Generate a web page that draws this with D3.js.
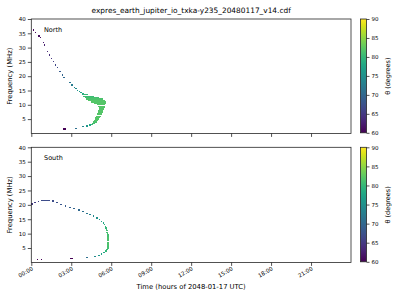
<!DOCTYPE html>
<html><head><meta charset="utf-8">
<script src="https://cdn.jsdelivr.net/npm/d3@7"></script>
<style>
html,body{margin:0;padding:0;background:#fff;}
svg{display:block;font-family:"DejaVu Sans",sans-serif;}
</style></head>
<body><svg id="c" width="400" height="300"></svg>
<script>
// ---------- data ----------
const titleText = "expres_earth_jupiter_io_txka-y235_20480117_v14.cdf";
const panelNames = ["North", "South"];
const xTickHours = [0, 3, 6, 9, 12, 15, 18, 21];
const xTickLabels = ["00:00", "03:00", "06:00", "09:00", "12:00", "15:00", "18:00", "21:00"];
const yTicks = [5, 10, 15, 20, 25, 30, 35, 40];
const cbTicks = [60, 65, 70, 75, 80, 85, 90];

// North: start hour, duration (h), frequency (MHz), theta (deg)
const northStart = [0.12,0.28,0.52,0.62,0.85,0.95,1.18,1.33,1.45,1.63,1.77,1.90,2.10,2.27,2.40,2.85,3.00,3.18,3.30,3.42,3.55,3.66,3.78,
  3.85,3.90,4.00,4.10,4.25,4.45,4.70,4.90,5.00,5.05,5.05,5.00,5.00,4.95,4.90,4.85,4.80,4.75,4.70,4.62,4.55,4.45,
  2.38,3.30,3.80,4.10,4.30];
const northDur = [0.1,0.1,0.1,0.1,0.1,0.1,0.1,0.1,0.1,0.1,0.1,0.1,0.1,0.1,0.1,0.1,0.1,0.1,0.1,0.1,0.1,0.12,0.15,
  0.40,0.80,1.10,1.25,1.25,1.15,0.90,0.65,0.50,0.45,0.40,0.42,0.38,0.38,0.37,0.35,0.32,0.30,0.27,0.28,0.25,0.20,
  0.22,0.12,0.12,0.12,0.15];
const northFreq = [36.2,35.4,34.1,33.6,31.7,30.9,28.6,27.4,26.3,25.1,23.9,23.1,21.6,20.4,19.6,17.7,16.9,16.1,15.6,15.1,14.6,14.2,13.8,
  13.5,13.0,12.5,12.0,11.5,11.0,10.5,10.0,9.5,9.0,8.5,8.0,7.5,7.0,6.5,6.0,5.5,5.0,4.5,4.0,3.5,3.0,
  1.5,1.8,2.3,2.6,2.9];
const northTheta = [60.5,60.5,61,61,62,62.5,63.5,64,64.5,65.5,66.5,67,68.5,69.5,70,71.5,72.5,73.5,74.5,75.5,76.5,77.5,78.5,
  80,80.5,81,81.5,82,82,82,82,82,82,82,82,82,82,82,82,82,82,82,81.5,81,80.5,
  60,71,74,76,78];

// South: start hour, duration (h), frequency (MHz), theta (deg)
const southStart = [0.00,0.22,0.48,0.75,1.55,1.85,2.15,2.50,2.85,3.15,3.50,3.80,4.10,4.35,4.60,4.85,5.05,5.20,5.35,5.45,
  5.52,5.56,5.60,5.62,5.64,5.66,5.68,5.70,5.68,5.68,5.68,5.68,5.68,5.68,5.68,5.66,5.62,5.56,
  5.42,5.22,5.00,4.72,4.10,2.90,0.40,0.72];
const southDur = [0.12,0.12,0.12,0.65,0.12,0.12,0.12,0.12,0.12,0.12,0.12,0.12,0.12,0.12,0.12,0.12,0.12,0.12,0.12,0.12,
  0.12,0.12,0.12,0.12,0.12,0.12,0.12,0.12,0.18,0.18,0.18,0.18,0.18,0.18,0.16,0.14,0.14,0.14,
  0.12,0.12,0.12,0.12,0.12,0.25,0.08,0.08];
const southFreq = [20.3,20.8,21.1,21.6,21.3,20.8,20.2,19.6,19.1,18.7,18.2,17.6,17.1,16.7,16.1,15.4,14.8,14.2,13.7,13.2,
  12.5,12.0,11.5,11.0,10.5,10.0,9.5,9.0,8.5,8.0,7.5,7.0,6.5,6.0,5.5,5.0,4.5,4.0,
  3.4,2.9,2.5,2.1,1.8,1.4,1.1,1.1];
const southTheta = [65,65.5,66,67,67,67.5,68,68.5,69,69.5,70,71,72,73,74,75,76,77,78,79,
  79.5,80,80.5,81,81,81,81,81,81.5,81.5,81.5,81.5,81.5,81.5,81,81,80.5,80,
  78,77,76,74,71,60,60,60];

// ---------- drawing ----------
const svg = d3.select("#c");
const W = 400, H = 300;
const plotL = 31.3, plotR = 351;
const panels = [
  {name: panelNames[0], top: 19, bot: 133.4, start: northStart, dur: northDur, freq: northFreq, theta: northTheta, labels: false},
  {name: panelNames[1], top: 147.3, bot: 262.4, start: southStart, dur: southDur, freq: southFreq, theta: southTheta, labels: true}
];
const x = d3.scaleLinear().domain([0, 24]).range([plotL, plotR]);
const color = d3.scaleSequential(d3.interpolateViridis).domain([60, 90]);
const spine = "#262626";

// gradient for colorbar
const defs = svg.append("defs");
const grad = defs.append("linearGradient").attr("id", "vir").attr("x1", 0).attr("y1", 1).attr("x2", 0).attr("y2", 0);
d3.range(0, 1.0001, 0.05).forEach(t => {
  grad.append("stop").attr("offset", t).attr("stop-color", d3.interpolateViridis(t));
});

svg.append("text").attr("x", (plotL + plotR) / 2).attr("y", 13.3)
  .attr("text-anchor", "middle").attr("font-size", 7.4).attr("fill", "#000").text(titleText);

panels.forEach(p => {
  const y = d3.scaleLinear().domain([0, 40]).range([p.bot, p.top]);
  const g = svg.append("g");
  const cells = p.start.map((s, i) => ({s, d: p.dur[i], f: p.freq[i], th: p.theta[i]}));
  const df = 0.45;
  g.selectAll("rect.cell").data(cells).enter().append("rect").attr("class", "cell")
    .attr("x", d => x(d.s)).attr("width", d => x(d.s + d.d) - x(d.s))
    .attr("y", d => y(d.f + df / 2)).attr("height", d => y(d.f - df / 2) - y(d.f + df / 2))
    .attr("fill", d => color(d.th)).attr("shape-rendering", "crispEdges");

  // y axis
  const ya = d3.axisLeft(y).tickValues(yTicks).tickSize(3.5).tickPadding(2);
  const yg = svg.append("g").attr("transform", `translate(${plotL},0)`).call(ya);
  yg.select(".domain").remove();
  yg.selectAll("line").attr("stroke", spine).attr("stroke-width", 0.8);
  yg.selectAll("text").attr("font-size", 5.5).attr("fill", "#000").attr("font-family", "DejaVu Sans");

  // x axis
  const xa = d3.axisBottom(x).tickValues(xTickHours).tickSize(3.5)
    .tickFormat((d, i) => p.labels ? xTickLabels[i] : "");
  const xg = svg.append("g").attr("transform", `translate(0,${p.bot})`).call(xa);
  xg.select(".domain").remove();
  xg.selectAll("line").attr("stroke", spine).attr("stroke-width", 0.8);
  xg.selectAll("text").remove();
  if (p.labels) {
    xTickHours.forEach((h, i) => {
      svg.append("text").attr("transform", `translate(${x(h) + 0.5},${p.bot + 4.5}) rotate(-30)`)
        .attr("text-anchor", "end").attr("dy", "0.6em").attr("font-size", 5.5).attr("fill", "#000")
        .text(xTickLabels[i]);
    });
  }

  // frame
  svg.append("rect").attr("x", plotL).attr("y", p.top).attr("width", plotR - plotL).attr("height", p.bot - p.top)
    .attr("fill", "none").attr("stroke", spine).attr("stroke-width", 0.8);

  // panel label
  svg.append("text").attr("x", 44).attr("y", p.top + 12.5).attr("font-size", 6.5).attr("fill", "#000").text(p.name);

  // y label
  svg.append("text").attr("transform", `translate(11.6,${(p.top + p.bot) / 2}) rotate(-90)`)
    .attr("text-anchor", "middle").attr("font-size", 6.8).attr("fill", "#000").text("Frequency (MHz)");

  // colorbar
  const cbx = 360.5, cbw = 6;
  const cy = d3.scaleLinear().domain([60, 90]).range([p.bot - 0.6, p.top]);
  svg.append("rect").attr("x", cbx).attr("y", p.top).attr("width", cbw).attr("height", p.bot - 0.6 - p.top)
    .attr("fill", "url(#vir)").attr("stroke", spine).attr("stroke-width", 0.8);
  const ca = d3.axisRight(cy).tickValues(cbTicks).tickSize(3).tickPadding(2);
  const cg = svg.append("g").attr("transform", `translate(${cbx + cbw},0)`).call(ca);
  cg.select(".domain").remove();
  cg.selectAll("line").attr("stroke", spine).attr("stroke-width", 0.8);
  cg.selectAll("text").attr("font-size", 5.5).attr("fill", "#000").attr("font-family", "DejaVu Sans");
  svg.append("text").attr("transform", `translate(389.5,${(p.top + p.bot) / 2}) rotate(-90)`)
    .attr("text-anchor", "middle").attr("font-size", 6.5).attr("fill", "#000").text("θ (degrees)");
});

svg.append("text").attr("x", (plotL + plotR) / 2).attr("y", 288.5)
  .attr("text-anchor", "middle").attr("font-size", 6.8).attr("fill", "#000").text("Time (hours of 2048-01-17 UTC)");
</script></body></html>
